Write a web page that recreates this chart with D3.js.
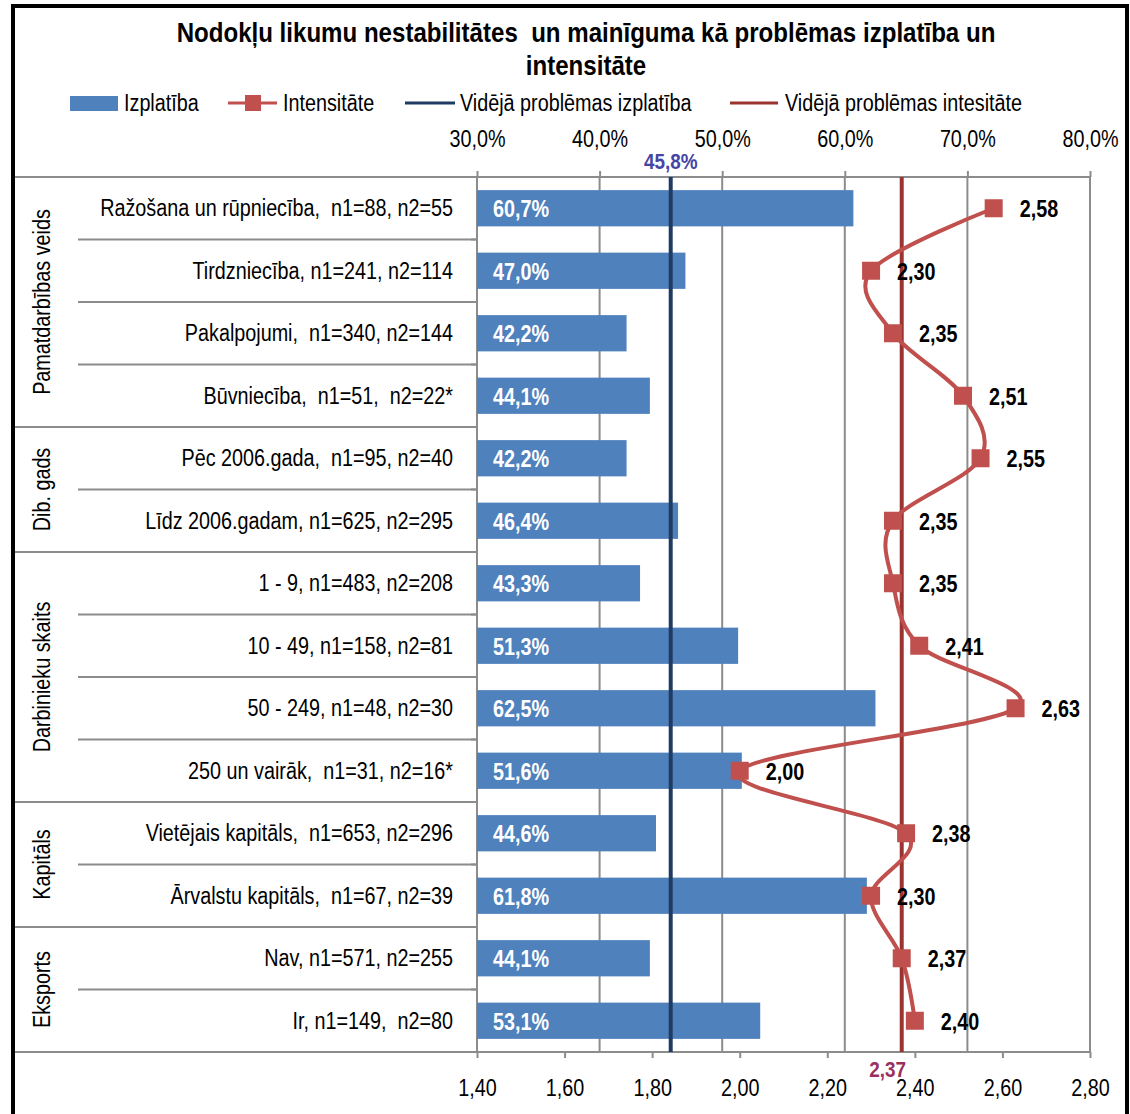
<!DOCTYPE html>
<html>
<head>
<meta charset="utf-8">
<script src="https://cdn.jsdelivr.net/npm/d3@7"></script>
<style>
  body { margin: 0; background: #fff; }
  text { font-family: "Liberation Sans Narrow", "Arial Narrow", "Liberation Sans", sans-serif; }
</style>
</head>
<body>
<div id="chart-area"></div>
<script>
// data
const categories = [
    "Ražošana un rūpniecība,  n1=88, n2=55",
    "Tirdzniecība, n1=241, n2=114",
    "Pakalpojumi,  n1=340, n2=144",
    "Būvniecība,  n1=51,  n2=22*",
    "Pēc 2006.gada,  n1=95, n2=40",
    "Līdz 2006.gadam, n1=625, n2=295",
    "1 - 9, n1=483, n2=208",
    "10 - 49, n1=158, n2=81",
    "50 - 249, n1=48, n2=30",
    "250 un vairāk,  n1=31, n2=16*",
    "Vietējais kapitāls,  n1=653, n2=296",
    "Ārvalstu kapitāls,  n1=67, n2=39",
    "Nav, n1=571, n2=255",
    "Ir, n1=149,  n2=80"
]
const izplatiba = [60.7, 47.0, 42.2, 44.1, 42.2, 46.4, 43.3, 51.3, 62.5, 51.6, 44.6, 61.8, 44.1, 53.1]
const intensitate = [2.58, 2.30, 2.35, 2.51, 2.55, 2.35, 2.35, 2.41, 2.63, 2.00, 2.38, 2.30, 2.37, 2.40]
const groups = ["Pamatdarbības veids", "Dib. gads", "Darbinieku skaits", "Kapitāls", "Eksports"]
const groupSizes = [4, 2, 4, 2, 2]
const avgIzplatiba = 45.8
const avgIntensitate = 2.37
const pctTicks = [30, 40, 50, 60, 70, 80]
const intTicks = [1.4, 1.6, 1.8, 2.0, 2.2, 2.4, 2.6, 2.8]

const W = 1130, H = 1114
const pLeft = 477, pRight = 1090, pTop = 177, pBottom = 1052
const SX = 0.86   // squeeze text to look like a narrow font
const FS = 23

const svg = d3.select("#chart-area").append("svg")
    .attr("width", W)
    .attr("height", H)

const comma = s => s.replace(".", ",")
const tr = (x, y) => `translate(${x},${y}) scale(${SX},1)`

const xPct = d3.scaleLinear().domain([30, 80]).range([pLeft, pRight])
const xInt = d3.scaleLinear().domain([1.4, 2.8]).range([pLeft, pRight])
const y = d3.scaleBand().domain(d3.range(categories.length))
    .range([pTop, pBottom]).paddingInner(0.42).paddingOuter(0.21)
const rowY = i => y(i) + y.bandwidth() / 2
const step = y.step()

// outer frame
svg.append("rect")
    .attr("x", 13).attr("y", 6).attr("width", 1114).attr("height", 1200)
    .attr("fill", "none").attr("stroke", "#000").attr("stroke-width", 4)

// title
svg.append("text").attr("transform", tr(586, 42)).attr("text-anchor", "middle")
    .attr("font-size", 28).attr("font-weight", "bold")
    .attr("xml:space", "preserve")
    .text("Nodokļu likumu nestabilitātes  un mainīguma kā problēmas izplatība un")
svg.append("text").attr("transform", tr(586, 75)).attr("text-anchor", "middle")
    .attr("font-size", 28).attr("font-weight", "bold")
    .text("intensitāte")

// legend
const lg = svg.append("g").attr("font-size", FS)
lg.append("rect").attr("x", 70).attr("y", 96).attr("width", 48).attr("height", 15).attr("fill", "#4f81bd")
lg.append("text").attr("transform", tr(124, 111)).text("Izplatība")
lg.append("line").attr("x1", 228).attr("x2", 277).attr("y1", 103).attr("y2", 103)
    .attr("stroke", "#c0504d").attr("stroke-width", 3)
lg.append("rect").attr("x", 245).attr("y", 95).attr("width", 16).attr("height", 16).attr("fill", "#c0504d")
lg.append("text").attr("transform", tr(283, 111)).text("Intensitāte")
lg.append("line").attr("x1", 405).attr("x2", 455).attr("y1", 103).attr("y2", 103)
    .attr("stroke", "#1f3b64").attr("stroke-width", 3)
lg.append("text").attr("transform", tr(460, 111)).text("Vidējā problēmas izplatība")
lg.append("line").attr("x1", 730).attr("x2", 778).attr("y1", 103).attr("y2", 103)
    .attr("stroke", "#9b3431").attr("stroke-width", 3)
lg.append("text").attr("transform", tr(785, 111)).text("Vidējā problēmas intesitāte")

// gridlines
svg.append("g").selectAll("line")
    .data(pctTicks.slice(1))
    .enter().append("line")
    .attr("x1", d => xPct(d)).attr("x2", d => xPct(d))
    .attr("y1", pTop).attr("y2", pBottom)
    .attr("stroke", "#8c8c8c").attr("stroke-width", 2)

// category separators on the left
let bounds = []
let acc = 0
groupSizes.forEach(n => { acc += n; bounds.push(acc) })
const seps = d3.range(1, categories.length).filter(i => !bounds.includes(i))
svg.append("g").selectAll("line").data(seps).enter().append("line")
    .attr("x1", 78).attr("x2", pLeft)
    .attr("y1", i => pTop + i * step).attr("y2", i => pTop + i * step)
    .attr("stroke", "#8c8c8c").attr("stroke-width", 2)
svg.append("g").selectAll("line").data([0].concat(bounds)).enter().append("line")
    .attr("x1", 15).attr("x2", i => (i === 0 || i === categories.length) ? pRight : pLeft)
    .attr("y1", i => pTop + i * step).attr("y2", i => pTop + i * step)
    .attr("stroke", "#8c8c8c").attr("stroke-width", 2)
// small ticks on category axis
svg.append("g").selectAll("line").data(d3.range(categories.length + 1)).enter().append("line")
    .attr("x1", pLeft - 6).attr("x2", pLeft)
    .attr("y1", i => pTop + i * step).attr("y2", i => pTop + i * step)
    .attr("stroke", "#8c8c8c").attr("stroke-width", 2)
// vertical axis lines
svg.append("line").attr("x1", pLeft).attr("x2", pLeft).attr("y1", pTop).attr("y2", pBottom)
    .attr("stroke", "#8c8c8c").attr("stroke-width", 2)
svg.append("line").attr("x1", pRight).attr("x2", pRight).attr("y1", pTop).attr("y2", pBottom)
    .attr("stroke", "#8c8c8c").attr("stroke-width", 2)

// group labels
let start = 0
groups.forEach((g, k) => {
    const mid = pTop + (start + groupSizes[k] / 2) * step
    svg.append("text")
        .attr("transform", `translate(50,${mid}) rotate(-90) scale(${SX},1)`)
        .attr("text-anchor", "middle")
        .attr("font-size", FS)
        .text(g)
    start += groupSizes[k]
})

// category labels
svg.append("g").selectAll("text").data(categories).enter().append("text")
    .attr("transform", (d, i) => tr(453, rowY(i) + 8))
    .attr("text-anchor", "end").attr("font-size", FS)
    .attr("xml:space", "preserve")
    .text(d => d)

// top axis
const axTop = svg.append("g").attr("transform", `translate(0,${pTop})`)
    .call(d3.axisTop(xPct).tickValues(pctTicks).tickSize(6).tickPadding(24)
        .tickFormat(d => comma(d.toFixed(1)) + "%"))
axTop.select(".domain").remove()
axTop.selectAll("line").attr("stroke", "#8c8c8c").attr("stroke-width", 2)
axTop.selectAll("text").attr("font-size", FS).attr("fill", "#000")
    .attr("transform", `scale(${SX},1)`)
    .style("font-family", "'Liberation Sans Narrow', 'Arial Narrow', 'Liberation Sans', sans-serif")

// bottom axis
const axBot = svg.append("g").attr("transform", `translate(0,${pBottom})`)
    .call(d3.axisBottom(xInt).tickValues(intTicks).tickSize(6).tickPadding(22)
        .tickFormat(d => comma(d.toFixed(2))))
axBot.select(".domain").remove()
axBot.selectAll("line").attr("stroke", "#8c8c8c").attr("stroke-width", 2)
axBot.selectAll("text").attr("font-size", FS).attr("fill", "#000")
    .attr("transform", `scale(${SX},1)`)
    .style("font-family", "'Liberation Sans Narrow', 'Arial Narrow', 'Liberation Sans', sans-serif")

// bars
svg.append("g").selectAll("rect").data(izplatiba).enter().append("rect")
    .attr("x", xPct(30)).attr("y", (d, i) => y(i))
    .attr("width", d => xPct(d) - xPct(30)).attr("height", y.bandwidth())
    .attr("fill", "#4f81bd")
svg.append("g").selectAll("text").data(izplatiba).enter().append("text")
    .attr("transform", (d, i) => tr(493, rowY(i) + 9))
    .attr("font-size", FS).attr("font-weight", "bold").attr("fill", "#fff")
    .text(d => comma(d.toFixed(1)) + "%")

// average lines
svg.append("line").attr("x1", xPct(avgIzplatiba)).attr("x2", xPct(avgIzplatiba))
    .attr("y1", pTop).attr("y2", pBottom).attr("stroke", "#1f3b64").attr("stroke-width", 4)
svg.append("text").attr("transform", tr(xPct(avgIzplatiba), 169)).attr("text-anchor", "middle")
    .attr("font-size", 22).attr("font-weight", "bold").attr("fill", "#4545a5")
    .text(comma(avgIzplatiba.toFixed(1)) + "%")
svg.append("line").attr("x1", xInt(avgIntensitate)).attr("x2", xInt(avgIntensitate))
    .attr("y1", pTop).attr("y2", pBottom).attr("stroke", "#9b3431").attr("stroke-width", 4)
svg.append("text").attr("transform", tr(xInt(avgIntensitate) - 14, 1077)).attr("text-anchor", "middle")
    .attr("font-size", 22).attr("font-weight", "bold").attr("fill", "#9b3060")
    .text(comma(avgIntensitate.toFixed(2)))

// intensity line
const line = d3.line()
    .x(d => xInt(d))
    .y((d, i) => rowY(i))
    .curve(d3.curveCardinal.tension(0))
svg.append("path").datum(intensitate)
    .attr("d", line).attr("fill", "none")
    .attr("stroke", "#c0504d").attr("stroke-width", 4)
svg.append("g").selectAll("rect").data(intensitate).enter().append("rect")
    .attr("x", d => xInt(d) - 9).attr("y", (d, i) => rowY(i) - 9)
    .attr("width", 18).attr("height", 18).attr("fill", "#c0504d")
svg.append("g").selectAll("text").data(intensitate).enter().append("text")
    .attr("transform", (d, i) => tr(xInt(d) + 26, rowY(i) + 9))
    .attr("font-size", FS).attr("font-weight", "bold")
    .text(d => comma(d.toFixed(2)))
</script>
</body>
</html>
